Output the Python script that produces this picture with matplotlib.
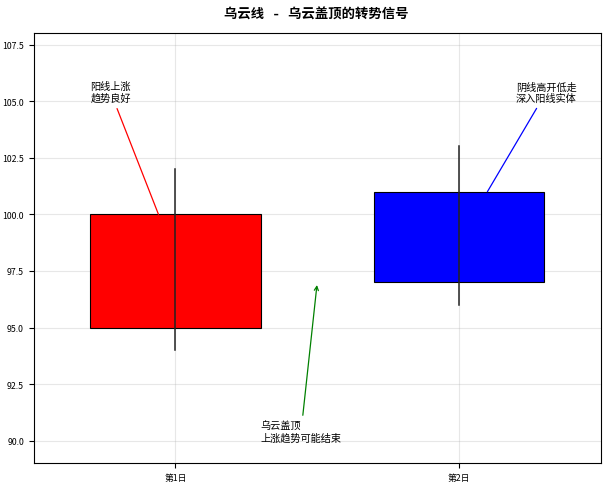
import matplotlib
matplotlib.use("Agg")
import matplotlib.pyplot as plt

plt.rcParams['font.family'] = ['Noto Sans CJK SC', 'DejaVu Sans']
plt.rcParams['axes.unicode_minus'] = False

days = ['第1日', '第2日']
opens = [95, 101]
closes = [100, 97]
highs = [102, 103]
lows = [94, 96]
colors = ['red', 'blue']

ann_texts = ['阳线上涨\n趋势良好', '阴线高开低走\n深入阳线实体', '乌云盖顶\n上涨趋势可能结束']
ann_xy = [(-0.06, 100), (1.1, 101), (0.5, 97)]
ann_xytext = [(-0.3, 105), (1.2, 105), (0.3, 90)]
ann_colors = ['red', 'blue', 'green']
ann_styles = ['-', '-', '->']

fig = plt.figure(figsize=(6.07, 4.85), dpi=100)
ax = fig.add_axes([33.7/607, 1-464.3/485, (600.8-33.7)/607, (464.3-34.3)/485])

x = list(range(len(days)))
for i in x:
    bottom = min(opens[i], closes[i])
    height = abs(closes[i] - opens[i])
    ax.bar(i, height, bottom=bottom, width=0.6, color=colors[i], edgecolor='black', linewidth=0.8, zorder=2)
    ax.plot([i, i], [lows[i], highs[i]], color='#222222', linewidth=1.1, zorder=3)

for t, xy, xyt, c, s in zip(ann_texts, ann_xy, ann_xytext, ann_colors, ann_styles):
    ax.annotate(t, xy=xy, xytext=xyt, fontsize=7.3,
                arrowprops=dict(arrowstyle=s, color=c, lw=0.9,
                                shrinkB=0 if s == '-' else 2), zorder=4)

ax.set_xticks(x)
ax.set_xticklabels(days)
ax.tick_params(labelsize=6.3)
ax.set_xlim(-0.5, 1.5)
ax.set_ylim(89, 108)
ax.grid(True, alpha=0.3)
ax.set_axisbelow(True)

fig.suptitle('乌云线 - 乌云盖顶的转势信号', fontsize=9.6, fontweight='bold',
             family=['DejaVu Sans Mono', 'Noto Sans CJK SC'],
             x=316.5/607, y=1-15.5/485, va='center')

fig.savefig('out.png', dpi=100)
